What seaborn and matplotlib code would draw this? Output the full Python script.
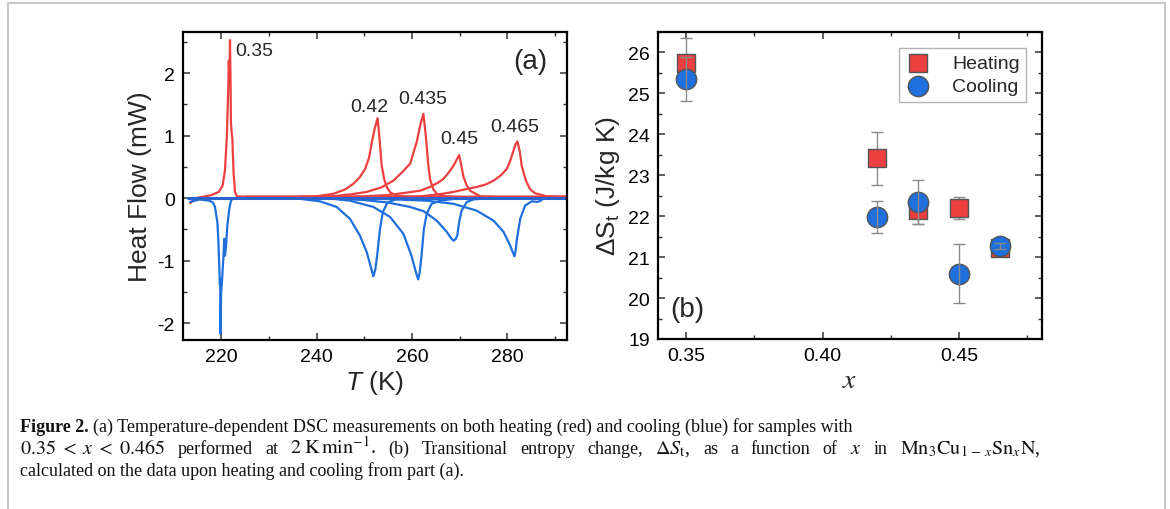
import numpy as np
import pandas as pd
import matplotlib
matplotlib.use('Agg')
import matplotlib.pyplot as plt
from matplotlib.ticker import MultipleLocator, AutoMinorLocator
from matplotlib.lines import Line2D
import seaborn as sns

sns.set_theme(style='ticks')
plt.rcParams['font.family'] = ['Liberation Sans', 'DejaVu Sans']
plt.rcParams['mathtext.fontset'] = 'custom'
plt.rcParams['mathtext.rm'] = 'Liberation Sans'
plt.rcParams['mathtext.it'] = 'Liberation Sans:italic'
plt.rcParams['axes.linewidth'] = 1.6
plt.rcParams['axes.unicode_minus'] = False

# ---- (a) DSC curves: T (K), heat flow (mW)
heat_035_T = [213.5, 214.5, 216, 218, 219.5, 220.3, 220.8, 221.2, 221.5, 221.6, 221.75, 221.85,
              221.95, 222.05, 222.2, 222.35, 222.6, 222.9, 223.3, 226, 240, 292.5]
heat_035_HF = [-0.08, 0.0, 0.02, 0.05, 0.1, 0.2, 0.45, 1.0, 1.8, 2.2, 1.9, 2.53,
               2.0, 1.2, 1.05, 0.95, 0.4, 0.1, 0.03, 0.02, 0.02, 0.02]
heat_042_T = [225, 235, 240, 243.5, 246, 247.7, 249, 250.2, 251, 251.6, 252.2, 252.8, 253.2,
              253.65, 254.2, 254.7, 255.5, 256.8, 260, 292.5]
heat_042_HF = [0.02, 0.02, 0.03, 0.07, 0.14, 0.23, 0.33, 0.47, 0.65, 0.9, 1.12, 1.28, 0.95,
               0.52, 0.3, 0.18, 0.09, 0.04, 0.02, 0.02]
heat_0435_T = [225, 235, 243.4, 247, 250.5, 253.5, 256.1, 258, 259.6, 261, 261.7, 262.4, 262.9,
               263.4, 263.8, 264.5, 265.2, 267, 270, 292.5]
heat_0435_HF = [0.02, 0.02, 0.03, 0.06, 0.1, 0.17, 0.28, 0.42, 0.55, 0.9, 1.16, 1.35, 1.0,
                0.55, 0.3, 0.14, 0.07, 0.03, 0.02, 0.02]
heat_045_T = [225, 240, 250, 255, 259, 261.7, 263.8, 265.5, 266.6, 267.8, 268.7, 269.4, 269.9,
              270.4, 270.8, 271.5, 272.2, 274.3, 278, 292.5]
heat_045_HF = [0.02, 0.02, 0.03, 0.05, 0.09, 0.12, 0.18, 0.25, 0.31, 0.42, 0.52, 0.62, 0.69,
               0.5, 0.34, 0.2, 0.12, 0.03, 0.02, 0.02]
heat_0465_T = [225, 245, 255, 261.7, 265.5, 268.7, 271, 273.6, 275.5, 277.1, 278.7, 279.9, 280.6,
               281.2, 281.7, 282.1, 282.6, 283, 283.5, 284, 284.8, 285.8, 288.2, 292.5]
heat_0465_HF = [0.02, 0.02, 0.02, 0.03, 0.06, 0.1, 0.14, 0.18, 0.22, 0.28, 0.37, 0.47, 0.6,
                0.74, 0.86, 0.91, 0.75, 0.52, 0.38, 0.26, 0.14, 0.08, 0.03, 0.02]

cool_035_T = [213.5, 215.5, 217.5, 218.3, 218.7, 219.2, 219.4, 219.6, 219.72, 219.8, 219.86, 220.0,
              220.15, 220.45, 220.65, 220.8, 221.0, 221.3, 221.7, 222.0, 222.3, 225]
cool_035_HF = [-0.06, -0.02, -0.04, -0.07, -0.14, -0.38, -0.65, -1.08, -1.38, -1.3, -2.17, -1.5,
               -1.36, -0.97, -0.65, -0.92, -0.78, -0.44, -0.17, -0.06, -0.01, 0.0]
cool_042_T = [230, 236.5, 240.7, 244.2, 247.0, 249.1, 250.5, 251.3, 251.9, 252.3, 252.7, 253.3,
              253.9, 254.8, 256.4, 260]
cool_042_HF = [0.0, -0.01, -0.05, -0.14, -0.33, -0.6, -0.86, -1.08, -1.25, -1.15, -0.92, -0.49,
               -0.22, -0.08, -0.02, 0.0]
cool_0435_T = [235, 242.1, 247, 251.9, 255.4, 258.2, 259.9, 260.7, 261.3, 261.6, 262.0, 262.5,
               263.1, 264.1, 265.9, 270]
cool_0435_HF = [0.0, 0.0, -0.04, -0.14, -0.3, -0.57, -0.92, -1.15, -1.3, -1.2, -0.92, -0.49,
                -0.25, -0.09, -0.04, 0.0]
cool_045_T = [240, 245, 250, 255, 259.6, 262.5, 265.2, 267.3, 268.2, 268.7, 269.1, 269.5, 269.9,
              270.4, 271.5, 272.9, 276]
cool_045_HF = [0.0, -0.01, -0.03, -0.07, -0.14, -0.21, -0.36, -0.54, -0.64, -0.68, -0.66, -0.6,
               -0.38, -0.2, -0.06, -0.02, 0.0]
cool_0465_T = [250, 263.1, 268.7, 273.6, 277.1, 279.2, 280.6, 281.1, 281.5, 281.8, 282.0, 282.7,
               283.7, 285.1, 286.3, 287.0, 287.5]
cool_0465_HF = [0.0, -0.04, -0.09, -0.2, -0.36, -0.54, -0.76, -0.86, -0.93, -0.8, -0.65, -0.33,
                -0.12, -0.05, -0.06, -0.04, 0.0]
base_T = [213.0, 292.5]
base_HF = [0.0, 0.0]

peak_labels = ['0.35', '0.42', '0.435', '0.45', '0.465']
peak_label_T = [222.9, 251.0, 262.25, 270.0, 281.6]
peak_label_HF = [2.36, 1.46, 1.59, 0.96, 1.14]

# ---- (b) transitional entropy change
x_vals = [0.35, 0.42, 0.435, 0.45, 0.465]
heat_S = [25.75, 23.41, 22.14, 22.2, 21.23]
heat_err = [0.6, 0.64, 0.34, 0.28, 0.1]
cool_S = [25.35, 21.97, 22.35, 20.6, 21.27]
cool_err = [0.53, 0.39, 0.54, 0.73, 0.08]

red = '#EC4040'
blue = '#1F6FDC'

curves = [('h035', 'heat', heat_035_T, heat_035_HF), ('h042', 'heat', heat_042_T, heat_042_HF),
          ('h0435', 'heat', heat_0435_T, heat_0435_HF), ('h045', 'heat', heat_045_T, heat_045_HF),
          ('h0465', 'heat', heat_0465_T, heat_0465_HF),
          ('c035', 'cool', cool_035_T, cool_035_HF), ('c042', 'cool', cool_042_T, cool_042_HF),
          ('c0435', 'cool', cool_0435_T, cool_0435_HF), ('c045', 'cool', cool_045_T, cool_045_HF),
          ('c0465', 'cool', cool_0465_T, cool_0465_HF)]
rows = []
for name, mode, T, HF in curves:
    for t, h in zip(T, HF):
        rows.append((name, mode, t, h))
dsc = pd.DataFrame(rows, columns=['curve', 'mode', 'T', 'HF'])

W, H = 1170, 510
fig = plt.figure(figsize=(W / 100, H / 100), dpi=100)
axa = fig.add_axes([183 / W, 1 - 341 / H, 384 / W, 308 / H])
axb = fig.add_axes([658 / W, 1 - 340 / H, 384 / W, 307 / H])

# ---------- panel (a)
sns.lineplot(data=dsc, x='T', y='HF', hue='mode', units='curve', estimator=None,
             palette={'heat': red, 'cool': blue}, linewidth=1.6, legend=False, ax=axa)
sns.lineplot(x=base_T, y=base_HF, color='#2a62d0', linewidth=2.2, ax=axa)
for lab, t, h in zip(peak_labels, peak_label_T, peak_label_HF):
    ha = 'left' if lab == '0.35' else 'center'
    axa.text(t, h, lab, ha=ha, va='center', fontsize=14)
axa.text(284.9, 2.2, '(a)', ha='center', va='center', fontsize=20)
axa.set_xlim(212, 292.5)
axa.set_ylim(-2.27, 2.66)
axa.xaxis.set_major_locator(MultipleLocator(20))
axa.xaxis.set_minor_locator(AutoMinorLocator(2))
axa.yaxis.set_major_locator(MultipleLocator(1))
axa.yaxis.set_minor_locator(AutoMinorLocator(2))
axa.set_xlabel('$T$ (K)', fontsize=19, labelpad=2)
axa.set_ylabel('Heat Flow (mW)', fontsize=19, labelpad=4)

# ---------- panel (b)
axb.errorbar(x_vals, heat_S, yerr=heat_err, fmt='none', ecolor='#8a8a8a', elinewidth=1,
             capsize=4, capthick=1, zorder=2)
sns.scatterplot(x=x_vals, y=heat_S, marker='s', s=175, color=red, edgecolor='#555555',
                linewidth=1, label='Heating', ax=axb, zorder=3)
sns.scatterplot(x=x_vals, y=cool_S, marker='o', s=215, color=blue, edgecolor='#555555',
                linewidth=1, label='Cooling', ax=axb, zorder=4)
axb.errorbar(x_vals, cool_S, yerr=cool_err, fmt='none', ecolor='#8a8a8a', elinewidth=1,
             capsize=4, capthick=1, zorder=5)
leg = axb.legend(loc='upper right', fontsize=14, frameon=True, fancybox=False,
                 edgecolor='#a0a0a0', borderpad=0.35, labelspacing=0.3, handlelength=1.3,
                 handletextpad=1.1, borderaxespad=0.8)
leg.get_frame().set_linewidth(1.0)
axb.text(0.3505, 19.73, '(b)', ha='center', va='center', fontsize=20)
axb.set_xlim(0.3397, 0.4804)
axb.set_ylim(19, 26.5)
axb.xaxis.set_major_locator(MultipleLocator(0.05))
axb.xaxis.set_minor_locator(AutoMinorLocator(2))
axb.yaxis.set_major_locator(MultipleLocator(1))
axb.yaxis.set_minor_locator(AutoMinorLocator(2))
axb.xaxis.set_major_formatter(plt.FormatStrFormatter('%.2f'))
axb.set_xlabel('$x$', fontsize=20, math_fontfamily='stix', labelpad=2)
axb.set_ylabel(r'ΔS$_\mathrm{t}$ (J/kg K)', fontsize=19, labelpad=4)

for ax in (axa, axb):
    ax.tick_params(which='both', direction='in', top=True, right=True, colors='#333333',
                   labelcolor='black')
    ax.tick_params(which='major', length=5, width=1.1, labelsize=14, pad=6)
    ax.tick_params(which='minor', length=3, width=1.0)
    for sp in ax.spines.values():
        sp.set_color('black')
        sp.set_linewidth(1.6)

# ---------- frame and caption
frame = '#c8c8c8'
fig.add_artist(Line2D([7.5 / W, 1165 / W], [1 - 3.5 / H, 1 - 3.5 / H], color=frame, lw=1.5))
fig.add_artist(Line2D([7.5 / W, 7.5 / W], [0, 1 - 3.5 / H], color=frame, lw=1.5))
fig.add_artist(Line2D([1165 / W, 1165 / W], [0, 1 - 3.5 / H], color=frame, lw=1.5))

cap = dict(fontsize=13, family=['Liberation Serif', 'DejaVu Serif'], math_fontfamily='stix',
           va='baseline', ha='left', color='#111111')
fig.canvas.draw()
r = fig.canvas.get_renderer()


def put_words(words, x0, x1, y):
    # lay words out on one caption line, spread to end at x1 (pixels);
    # math tokens are set a little larger, as in the journal's web rendering
    arts = []
    for w in words:
        kw = dict(cap)
        if '$' in w:
            kw['fontsize'] = 14.5
        arts.append(fig.text(0, 1 - y / H, w, **kw))
    widths = [a.get_window_extent(renderer=r).width for a in arts]
    gap = (x1 - x0 - sum(widths)) / (len(words) - 1)
    x = x0
    for a, w in zip(arts, widths):
        a.set_x(x / W)
        x += w + gap


t0 = fig.text(20 / W, 1 - 432 / H, 'Figure 2.', fontweight='bold', **cap)
x1 = t0.get_window_extent(renderer=r).x1
fig.text((x1 + 4) / W, 1 - 432 / H,
         '(a) Temperature-dependent DSC measurements on both heating (red) and cooling (blue) '
         'for samples with', **cap)
line2 = [r'$0.35\;<\;x\;<\;0.465$', 'performed', 'at', r'$2\;\mathrm{K\,min^{-1}}$.', '(b)',
         'Transitional', 'entropy', 'change,', r'$\Delta S_{\mathrm{t}}$,', 'as', 'a',
         'function', 'of', '$x$', 'in', r'$\mathrm{Mn_3Cu_{1\,-\,\mathit{x}}Sn_{\mathit{x}}N}$,']
put_words(line2, 20, 1040, 454)
fig.text(20 / W, 1 - 476 / H,
         'calculated on the data upon heating and cooling from part (a).', **cap)

fig.savefig('out.png', dpi=100)
